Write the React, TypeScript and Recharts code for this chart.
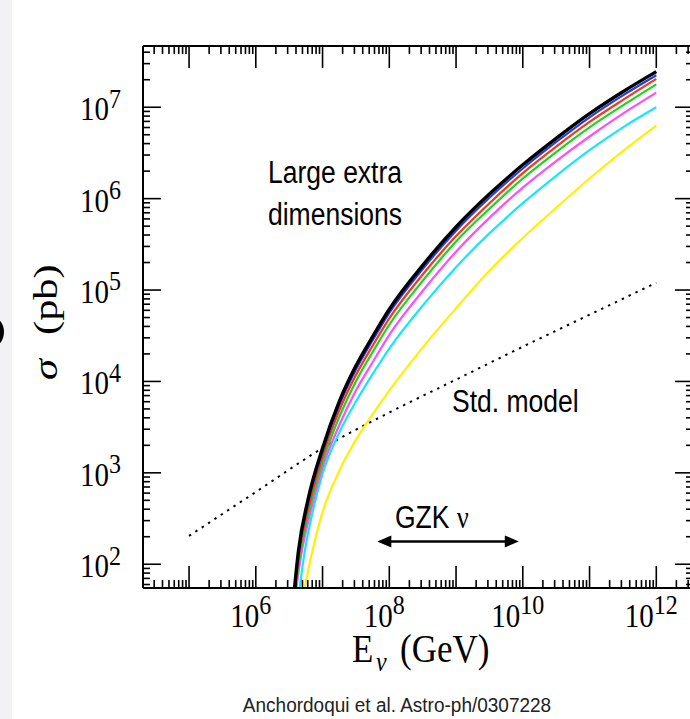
import { ComposedChart, Line, XAxis, YAxis, ReferenceLine } from 'recharts';

// readings: [log10(E / GeV), log10(sigma / pb)]
const BLACK: [number, number][] = [
  [6.575, 1.7], [6.64, 2.15], [6.78, 2.7], [7.0, 3.27], [7.25, 3.78], [7.5, 4.17], [7.75, 4.49],
  [8.0, 4.79], [8.5, 5.27], [9.0, 5.69], [9.5, 6.05], [10, 6.37], [10.5, 6.66], [11, 6.93], [11.5, 7.17], [12, 7.39],
];
const BLUE: [number, number][] = [
  [6.58, 1.7], [6.645, 2.13], [6.785, 2.67], [7.0, 3.23], [7.25, 3.74], [7.5, 4.13], [7.75, 4.45],
  [8.0, 4.75], [8.5, 5.23], [9.0, 5.65], [9.5, 6.01], [10, 6.33], [10.5, 6.62], [11, 6.89], [11.5, 7.13], [12, 7.35],
];
const RED: [number, number][] = [
  [6.585, 1.7], [6.65, 2.11], [6.79, 2.63], [7.0, 3.18], [7.25, 3.68], [7.5, 4.07], [7.75, 4.39],
  [8.0, 4.69], [8.5, 5.17], [9.0, 5.59], [9.5, 5.95], [10, 6.28], [10.5, 6.57], [11, 6.84], [11.5, 7.08], [12, 7.31],
];
const GREEN: [number, number][] = [
  [6.59, 1.7], [6.66, 2.09], [6.8, 2.59], [7.0, 3.12], [7.25, 3.61], [7.5, 4.0], [7.75, 4.32],
  [8.0, 4.62], [8.5, 5.1], [9.0, 5.53], [9.5, 5.89], [10, 6.22], [10.5, 6.51], [11, 6.78], [11.5, 7.02], [12, 7.25],
];
const MAGENTA: [number, number][] = [
  [6.6, 1.7], [6.675, 2.08], [6.815, 2.56], [7.0, 3.06], [7.25, 3.52], [7.5, 3.9], [7.75, 4.21],
  [8.0, 4.51], [8.5, 4.99], [9.0, 5.42], [9.5, 5.79], [10, 6.12], [10.5, 6.41], [11, 6.68], [11.5, 6.93], [12, 7.16],
];
const CYAN: [number, number][] = [
  [6.65, 1.7], [6.72, 2.08], [6.86, 2.6], [7.0, 2.99], [7.25, 3.44], [7.5, 3.78], [7.75, 4.08],
  [8.0, 4.36], [8.5, 4.83], [9.0, 5.25], [9.5, 5.62], [10, 5.95], [10.5, 6.25], [11, 6.53], [11.5, 6.78], [12, 7.0],
];
const YELLOW: [number, number][] = [
  [6.72, 1.7], [6.85, 2.15], [7.0, 2.57], [7.25, 3.02], [7.5, 3.36], [7.75, 3.64],
  [8.0, 3.9], [8.5, 4.37], [9.0, 4.8], [9.5, 5.21], [10, 5.57], [10.5, 5.9], [11, 6.22], [11.5, 6.52], [12, 6.8],
];
const STD_MODEL: [number, number][] = [
  [5, 2.31], [6, 2.79], [7, 3.27], [8, 3.66], [9, 4.02], [10, 4.38], [11, 4.73], [12, 5.08],
];

const X_LABEL_EXP = [6, 8, 10, 12];
const Y_LABEL_EXP = [2, 3, 4, 5, 6, 7];
const X_DOMAIN: [number, number] = [10 ** 4.31, 10 ** 12.55];
const Y_DOMAIN: [number, number] = [10 ** 1.74, 10 ** 7.67];
const GZK_E = [10 ** 7.82, 10 ** 9.94];
const GZK_SIGMA = 10 ** 2.25;

const SERIF = '"Liberation Serif", serif';
const SANS = '"Liberation Sans", Arial, sans-serif';

const CURVES = [
  { key: 'yellow', color: '#fff000', width: 2.2, pts: YELLOW },
  { key: 'cyan', color: '#14e6ff', width: 2.2, pts: CYAN },
  { key: 'magenta', color: '#ff4cff', width: 2.2, pts: MAGENTA },
  { key: 'green', color: '#1ed21e', width: 2.2, pts: GREEN },
  { key: 'red', color: '#ff3412', width: 2.2, pts: RED },
  { key: 'blue', color: '#1e3cff', width: 2.2, pts: BLUE },
  { key: 'black', color: '#000000', width: 3.4, pts: BLACK },
];

const toRows = (pts: [number, number][]) => pts.map(([le, ls]) => ({ e: 10 ** le, s: 10 ** ls }));

function logTicks([lo, hi]: [number, number]) {
  const out: number[] = [];
  for (let d = Math.floor(Math.log10(lo)); d <= Math.ceil(Math.log10(hi)); d++) {
    for (let k = 1; k <= 9; k++) {
      const v = k * 10 ** d;
      if (v >= lo && v <= hi) out.push(v);
    }
  }
  return out;
}
const X_TICKS = logTicks(X_DOMAIN);
const Y_TICKS = logTicks(Y_DOMAIN);

const isDecade = (v: number) => {
  const l = Math.log10(v);
  return Math.abs(l - Math.round(l)) < 1e-6;
};

function Pow({ n, anchor }: { n: number; anchor: 'middle' | 'end' }) {
  return (
    <text textAnchor={anchor} fontFamily={SERIF} fontSize={29} fill="#000">
      10<tspan dy={-11} fontSize={24}>{n}</tspan>
    </text>
  );
}

const BottomTick = (p: any) => {
  const major = isDecade(p.payload.value);
  const n = Math.round(Math.log10(p.payload.value));
  return (
    <g>
      <line x1={p.x} x2={p.x} y1={p.y} y2={p.y - (major ? 22 : 8)} stroke="#000" strokeWidth={1.6} />
      {major && X_LABEL_EXP.includes(n) && (
        <g transform={`translate(${p.x - 5},${p.y + 39}) scale(1,1.15)`}>
          <Pow n={n} anchor="middle" />
        </g>
      )}
    </g>
  );
};

const TopTick = (p: any) => {
  const major = isDecade(p.payload.value);
  return <line x1={p.x} x2={p.x} y1={p.y} y2={p.y + (major ? 22 : 8)} stroke="#000" strokeWidth={1.6} />;
};

const LeftTick = (p: any) => {
  const major = isDecade(p.payload.value);
  const n = Math.round(Math.log10(p.payload.value));
  return (
    <g>
      <line x1={p.x} x2={p.x + (major ? 18 : 7)} y1={p.y} y2={p.y} stroke="#000" strokeWidth={1.6} />
      {major && Y_LABEL_EXP.includes(n) && (
        <g transform={`translate(${p.x - 22},${p.y + 13}) scale(1,1.15)`}>
          <Pow n={n} anchor="end" />
        </g>
      )}
    </g>
  );
};

const RightTick = (p: any) => {
  const major = isDecade(p.payload.value);
  return <line x1={p.x} x2={p.x - (major ? 18 : 7)} y1={p.y} y2={p.y} stroke="#000" strokeWidth={1.6} />;
};

const Arrow = (p: any) => {
  const { x1, y1, x2, y2 } = p;
  return (
    <g>
      <line x1={x1 + 10} x2={x2 - 10} y1={y1} y2={y2} stroke="#000" strokeWidth={2.5} />
      <polygon points={`${x1},${y1} ${x1 + 14},${y1 - 6} ${x1 + 14},${y1 + 6}`} fill="#000" />
      <polygon points={`${x2},${y2} ${x2 - 14},${y2 - 6} ${x2 - 14},${y2 + 6}`} fill="#000" />
    </g>
  );
};

const axisLine = { stroke: '#000', strokeWidth: 2 };

export default function App() {
  return (
    <div style={{ position: 'absolute', left: 0, top: 0, width: 690, height: 719, overflow: 'hidden', background: '#fff' }}>
      <div style={{ position: 'absolute', left: 0, top: 0, width: 12, height: 719, background: '#f2f2f4' }} />
      <div style={{ position: 'absolute', left: 0, top: 0 }}>
        <ComposedChart width={720} height={719} margin={{ top: 45, right: 26, bottom: 130, left: 142 }}>
          <XAxis dataKey="e" type="number" scale="log" domain={X_DOMAIN} allowDataOverflow ticks={X_TICKS}
            interval={0} tick={<BottomTick />} tickLine={false} tickSize={0} tickMargin={0} axisLine={axisLine} height={1} />
          <XAxis xAxisId="top" orientation="top" dataKey="e" type="number" scale="log" domain={X_DOMAIN} allowDataOverflow
            ticks={X_TICKS} interval={0} tick={<TopTick />} tickLine={false} tickSize={0} tickMargin={0} axisLine={axisLine} height={1} />
          <YAxis type="number" scale="log" domain={Y_DOMAIN} allowDataOverflow ticks={Y_TICKS} interval={0}
            tick={<LeftTick />} tickLine={false} tickSize={0} tickMargin={0} axisLine={axisLine} width={1} />
          <YAxis yAxisId="right" orientation="right" type="number" scale="log" domain={Y_DOMAIN} allowDataOverflow
            ticks={Y_TICKS} interval={0} tick={<RightTick />} tickLine={false} tickSize={0} tickMargin={0} axisLine={axisLine} width={1} />
          <Line data={toRows(STD_MODEL)} dataKey="s" type="monotone" stroke="#000" strokeWidth={2}
            strokeDasharray="2.4 5.2" dot={false} isAnimationActive={false} />
          {CURVES.map((c) => (
            <Line key={c.key} data={toRows(c.pts)} dataKey="s" type="monotone" stroke={c.color}
              strokeWidth={c.width} dot={false} isAnimationActive={false} />
          ))}
          <ReferenceLine segment={[{ x: GZK_E[0], y: GZK_SIGMA }, { x: GZK_E[1], y: GZK_SIGMA }]} shape={<Arrow />} />
        </ComposedChart>
      </div>
      <svg width={690} height={719} style={{ position: 'absolute', left: 0, top: 0, pointerEvents: 'none' }}>
        <ellipse cx={-10} cy={332} rx={11} ry={13} fill="none" stroke="#000" strokeWidth={6} />
        <g fontFamily={SANS} fontSize={26.5} fill="#000">
          <text transform="translate(268,183) scale(1,1.2)">Large extra</text>
          <text transform="translate(268,225) scale(1,1.2)">dimensions</text>
          <text transform="translate(452,412) scale(1,1.2)">Std. model</text>
          <text transform="translate(395,528) scale(1,1.2)">
            GZK <tspan fontFamily={SERIF}>ν</tspan>
          </text>
        </g>
        <g fontFamily={SERIF} fill="#000">
          <text transform="translate(352,662) scale(1,1.15)" fontSize={35}>E</text>
          <text transform="translate(376,671) scale(1,1.15)" fontSize={24} fontStyle="italic">ν</text>
          <text transform="translate(400,662) scale(1,1.15)" fontSize={35}>(GeV)</text>
        </g>
        <g transform="translate(57,380) rotate(-90) scale(1.25,1)" fontFamily={SERIF} fill="#000" fontSize={34}>
          <text x={0} y={0} fontStyle="italic">σ</text>
          <text x={36} y={0}>(pb)</text>
        </g>
        <text transform="translate(397,712) scale(1,1.08)" textAnchor="middle" fontFamily={SANS} fontSize={19} fill="#222">
          Anchordoqui et al. Astro-ph/0307228
        </text>
      </svg>
    </div>
  );
}
